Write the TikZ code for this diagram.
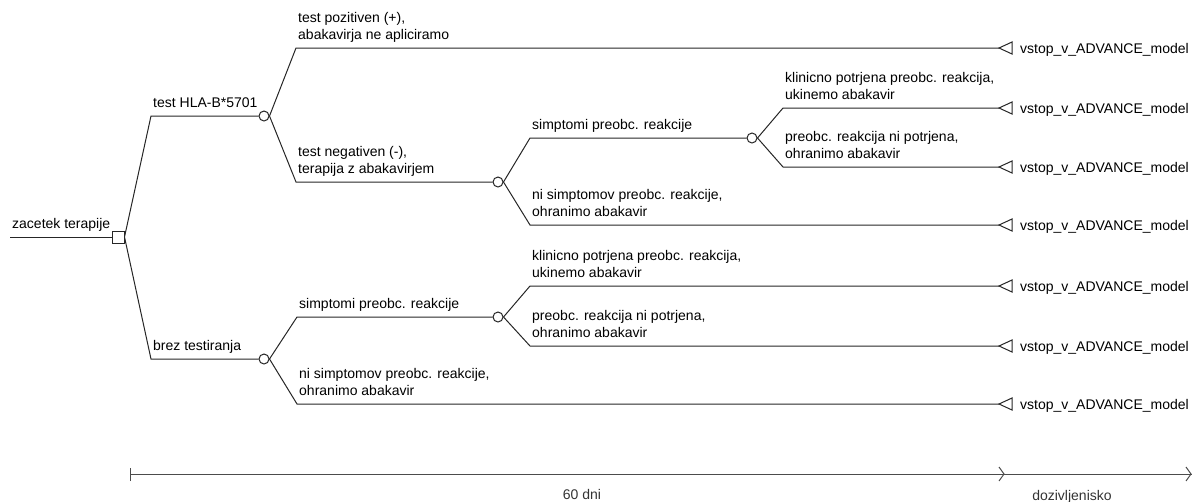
\documentclass[tikz,border=0pt]{standalone}
\usepackage{fontspec}
\setmainfont{Liberation Sans}
\begin{document}
\begin{tikzpicture}[x=1pt,y=-1pt,
  br/.style={line width=1pt, draw=black!85},
  lbl/.style={anchor=south west, inner sep=0pt, text depth=0pt, align=left, font=\fontsize{14}{17}\selectfont},
  chance/.style={circle, draw=black!85, line width=1pt, fill=white, minimum size=10pt, inner sep=0pt},
  decision/.style={rectangle, draw=black!85, line width=1pt, fill=white, minimum size=12pt, inner sep=0pt},
  termtxt/.style={anchor=base west, inner sep=0pt, font=\fontsize{14}{17}\selectfont},
  termtri/.style={line width=1pt, draw=black!85, line join=miter},
  axis/.style={line width=1pt, draw=black!70},
  axtxt/.style={anchor=base, inner sep=0pt, text=black!80, font=\fontsize{14}{17}\selectfont}
]
\useasboundingbox (0,0) rectangle (1192,501);

% ---------- nodes ----------
\coordinate (start) at (10,237);
\node[decision] (dec) at (118,237) {};
\node[chance] (c1) at (264,116) {};
\node[chance] (c2) at (498,182) {};
\node[chance] (c3) at (752,138) {};
\node[chance] (c4) at (264,359) {};
\node[chance] (c5) at (498,317) {};

% bend points
\coordinate (b1) at (151,116);
\coordinate (b4) at (151,359);
\coordinate (bp) at (296,48);
\coordinate (bn) at (296,182);
\coordinate (bs1) at (530,138);
\coordinate (bns1) at (530,225);
\coordinate (bk1) at (783,108);
\coordinate (bo1) at (783,167);
\coordinate (bs2) at (297,317);
\coordinate (bns2) at (297,404);
\coordinate (bk2) at (530,286);
\coordinate (bo2) at (530,346);

% terminals (tips)
\coordinate (t1) at (999,48);
\coordinate (t2) at (999,108);
\coordinate (t3) at (999,167);
\coordinate (t4) at (999,225);
\coordinate (t5) at (999,286);
\coordinate (t6) at (999,346);
\coordinate (t7) at (999,404);

% ---------- connectors ----------
\draw[br] (start) -- (dec.west);
\draw[br] (dec.east) -- (b1) -- (c1.west);
\draw[br] (dec.east) -- (b4) -- (c4.west);
\draw[br] (c1.east) -- (bp) -- (t1);
\draw[br] (c1.east) -- (bn) -- (c2.west);
\draw[br] (c2.east) -- (bs1) -- (c3.west);
\draw[br] (c2.east) -- (bns1) -- (t4);
\draw[br] (c3.east) -- (bk1) -- (t2);
\draw[br] (c3.east) -- (bo1) -- (t3);
\draw[br] (c4.east) -- (bs2) -- (c5.west);
\draw[br] (c4.east) -- (bns2) -- (t7);
\draw[br] (c5.east) -- (bk2) -- (t5);
\draw[br] (c5.east) -- (bo2) -- (t6);

% terminal triangles and texts
\foreach \t in {t1,t2,t3,t4,t5,t6,t7}{
  \draw[termtri] (\t) -- ++(13,-6) -- ++(0,12) -- cycle;
  \node[termtxt] (\t txt) at ([xshift=21pt,yshift=-5pt]\t) {vstop\_v\_ADVANCE\_model};
}

% ---------- labels ----------
\node[lbl] (lstart) at (12,229) {zacetek terapije};
\node[lbl] (l1) at (153,108) {test HLA-B*5701};
\node[lbl] (l4) at (153,351) {brez testiranja};
\node[lbl] (lp) at (298,40) {test pozitiven (+),\\abakavirja ne apliciramo};
\node[lbl] (ln) at (298,174) {test negativen (-),\\terapija z abakavirjem};
\node[lbl] (ls1) at (532,130) {simptomi preobc. reakcije};
\node[lbl] (lns1) at (532,217) {ni simptomov preobc. reakcije,\\ohranimo abakavir};
\node[lbl] (lk1) at (785,100) {klinicno potrjena preobc. reakcija,\\ukinemo abakavir};
\node[lbl] (lo1) at (785,159) {preobc. reakcija ni potrjena,\\ohranimo abakavir};
\node[lbl] (ls2) at (299,309) {simptomi preobc. reakcije};
\node[lbl] (lns2) at (299,396) {ni simptomov preobc. reakcije,\\ohranimo abakavir};
\node[lbl] (lk2) at (532,278) {klinicno potrjena preobc. reakcija,\\ukinemo abakavir};
\node[lbl] (lo2) at (532,338) {preobc. reakcija ni potrjena,\\ohranimo abakavir};

% ---------- time axis ----------
\coordinate (ax0) at (130,474);
\coordinate (ax1) at (1004,474);
\coordinate (ax2) at (1192,474);
\draw[axis] (ax0) -- (ax2);
\draw[axis] ([yshift=-7pt]ax0) -- ([yshift=6pt]ax0);
\draw[axis] ([xshift=-5pt,yshift=-7pt]ax1) -- (ax1) -- ([xshift=-5pt,yshift=7pt]ax1);
\draw[axis] ([xshift=-6pt,yshift=-7pt]ax2) -- ([xshift=-1pt]ax2) -- ([xshift=-6pt,yshift=7pt]ax2);
\node[axtxt] (d60) at (582,499) {60 dni};
\node[axtxt] (dziv) at (1072,500) {dozivljenisko};
\end{tikzpicture}
\end{document}
